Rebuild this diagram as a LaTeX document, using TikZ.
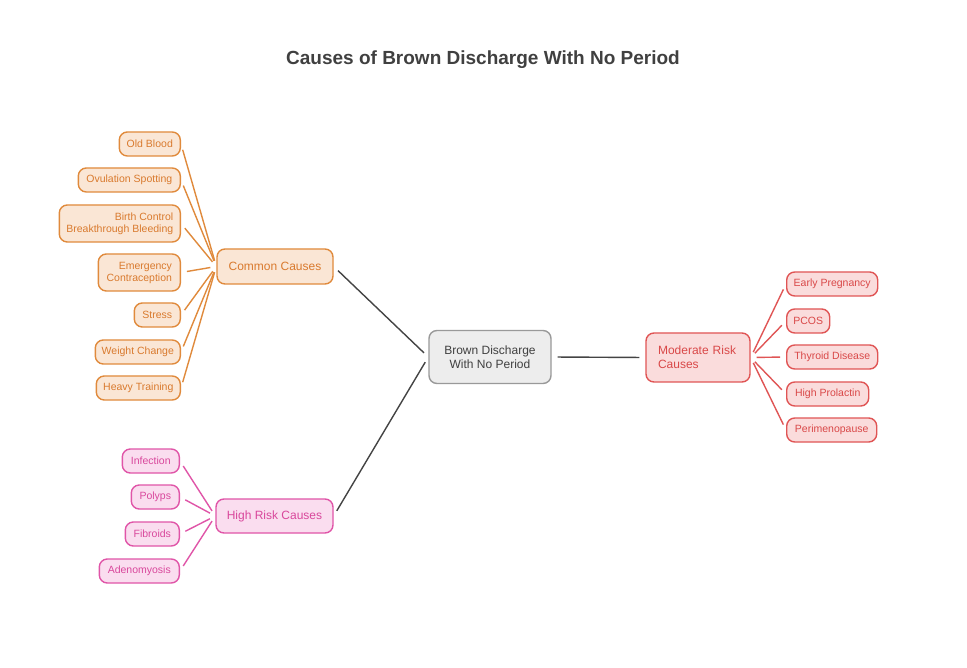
\documentclass[tikz,border=0pt]{standalone}
\usepackage{fontspec}
\setmainfont{Liberation Sans}
\begin{document}
\begin{tikzpicture}[x=1pt,y=-1pt,
 base/.style={draw,rounded corners=8pt,line width=1.4pt,inner sep=0pt,font=\fontsize{10.5}{12}\selectfont},
 oleaf/.style={base,draw=oS,fill=oF,text=oT,anchor=east,align=right,minimum height=24pt},
 pleaf/.style={base,draw=pS,fill=pF,text=pT,anchor=east,minimum height=24pt},
 rleaf/.style={base,draw=rS,fill=rF,text=rT,anchor=west,minimum height=24pt},
 hub/.style={base,font=\fontsize{12}{14}\selectfont,anchor=center},
 ol/.style={draw=oS,line width=1.4pt,shorten <=6pt,shorten >=6pt},
 pl/.style={draw=pS,line width=1.4pt,shorten <=6pt,shorten >=6pt},
 rl/.style={draw=rS,line width=1.4pt,shorten <=6pt,shorten >=6pt},
 cl/.style={draw=cS,line width=1.4pt,shorten <=6pt,shorten >=6pt}]
\definecolor{oS}{HTML}{E08A3C}\definecolor{oF}{HTML}{FAE6D5}\definecolor{oT}{HTML}{D97A2E}
\definecolor{pS}{HTML}{E055A8}\definecolor{pF}{HTML}{FADDEF}\definecolor{pT}{HTML}{D9479C}
\definecolor{rS}{HTML}{E05555}\definecolor{rF}{HTML}{FADCDC}\definecolor{rT}{HTML}{D94848}
\definecolor{cS}{HTML}{444444}
\useasboundingbox[fill=white] (0,0) rectangle (967,668);
\node[font=\bfseries\fontsize{19}{22}\selectfont,text=black!75] (title) at (483,60) {Causes of Brown Discharge With No Period};
\node[hub,draw=black!40,fill=black!7,text=black!75,align=center,minimum width=122pt,minimum height=53pt] (c) at (490,357) {Brown Discharge\\With No Period};
\node[hub,draw=oS,fill=oF,text=oT,minimum width=116pt,minimum height=35pt] (cc) at (275,266.5) {Common Causes};
\node[hub,draw=pS,fill=pF,text=pT,minimum width=117pt,minimum height=34pt] (hr) at (274.5,516) {High Risk Causes};
\node[hub,draw=rS,fill=rF,text=rT,align=left,minimum width=104pt,minimum height=49pt,text width=80pt] (mr) at (698,357.5) {Moderate Risk\\Causes};
\foreach \n/\y/\w/\t in {o1/144/61/Old Blood,o2/180/102/Ovulation Spotting,o5/315/46/Stress,o6/352/85/Weight Change,o7/388/84/Heavy Training}
 \node[oleaf,minimum width=\w pt] (\n) at (181,\y) {\t};
\node[oleaf,minimum width=121pt,minimum height=37pt,inner xsep=7pt] (o3) at (181,223.5) {Birth Control\\Breakthrough Bleeding};
\node[oleaf,minimum width=82pt,minimum height=37pt,inner xsep=7pt] (o4) at (181,272.5) {Emergency\\Contraception};
\foreach \n/\y/\w/\t in {p1/461/57/Infection,p2/497/48/Polyps,p3/534/54/Fibroids,p4/571/80/Adenomyosis}
 \node[pleaf,minimum width=\w pt] (\n) at (180,\y) {\t};
\foreach \n/\y/\w/\t in {r1/284/91/Early Pregnancy,r2/321/43/PCOS,r3/357/91/Thyroid Disease,r4/394/82/High Prolactin,r5/430/90/Perimenopause}
 \node[rleaf,minimum width=\w pt] (\n) at (786,\y) {\t};
\foreach \n in {o1,o2,o3,o4,o5,o6,o7} \draw[ol] (\n.east) -- (cc.west);
\foreach \n in {p1,p2,p3,p4} \draw[pl] (\n.east) -- (hr.west);
\foreach \n in {r1,r2,r3,r4,r5} \draw[rl] (mr.east) -- (\n.west);
\draw[cl] (cc.east) -- (c.west);
\draw[cl] (hr.east) -- (c.west);
\draw[cl] (c.east) -- (mr.west);
\end{tikzpicture}
\end{document}
